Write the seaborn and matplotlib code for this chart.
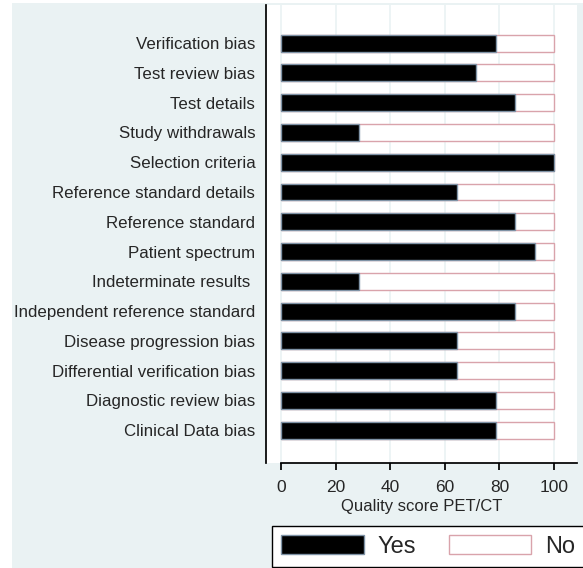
import pandas as pd
import seaborn as sns
import matplotlib.pyplot as plt
from matplotlib.patches import Patch, Rectangle

# QUADAS items, share of studies answering "Yes" (%)
items = [
    "Verification bias", "Test review bias", "Test details", "Study withdrawals",
    "Selection criteria", "Reference standard details", "Reference standard",
    "Patient spectrum", "Indeterminate results ", "Independent reference standard",
    "Disease progression bias", "Differential verification bias",
    "Diagnostic review bias", "Clinical Data bias",
]
yes_pct = [78.6, 71.4, 85.7, 28.6, 100, 64.3, 85.7, 92.9, 28.6, 85.7, 64.3, 64.3, 78.6, 78.6]
total_pct = [100] * len(items)
xticks = [0, 20, 40, 60, 80, 100]

bg = "#EAF2F3"

def plot_quality(df):
    sns.set_theme(style="white")
    plt.rcParams["font.family"] = ["Liberation Sans", "DejaVu Sans"]

    fig = plt.figure(figsize=(5.83, 5.68), dpi=100, facecolor="white")
    fig.patches.append(Rectangle((12 / 583, 0), 1, 565 / 568, transform=fig.transFigure,
                                 facecolor=bg, edgecolor="none", zorder=-5))
    ax = fig.add_axes([266 / 583, 1 - 463 / 568, (577 - 266) / 583, (463 - 5) / 568])
    ax.set_facecolor("white")

    sns.barplot(data=df, x="total", y="item", orient="h", color="white",
                edgecolor="#D9A3AB", linewidth=1, width=0.57, ax=ax)
    sns.barplot(data=df, x="yes", y="item", orient="h", color="black",
                edgecolor="#7F93A6", linewidth=1, width=0.57, ax=ax)

    ax.set_xlim(-5.5, 108.4)
    ax.set_ylim(14.1, -1.28)
    ax.set_xticks(xticks)
    ax.xaxis.grid(True, color=bg, linewidth=1.2)
    ax.set_axisbelow(True)
    for s in ["top", "right"]:
        ax.spines[s].set_visible(False)
    ax.spines["left"].set_color("black")
    ax.spines["bottom"].set_color("black")
    ax.spines["bottom"].set_bounds(0, 108.4)
    ax.tick_params(axis="x", bottom=True, length=5, color="black", labelsize=12.5, pad=7)
    ax.tick_params(axis="y", left=False, labelsize=12.2, pad=1.7)
    ax.set_xlabel("Quality score PET/CT", fontsize=12, labelpad=3)
    ax.set_ylabel("")

    handles = [Patch(facecolor="black", edgecolor="#7F93A6"),
               Patch(facecolor="white", edgecolor="#D9A3AB")]
    fig.legend(handles, ["Yes", "No"], loc="lower left",
               bbox_to_anchor=(272 / 583, 1 / 568), ncol=2, fontsize=17,
               fancybox=False, edgecolor="black", framealpha=1,
               handlelength=3.5, handleheight=0.85, columnspacing=1.37,
               borderpad=0.38, handletextpad=0.6, borderaxespad=0)

    fig.savefig("out.png", dpi=100, facecolor="white")

if __name__ == "__main__":
    data = pd.DataFrame({"item": items, "yes": yes_pct, "total": total_pct})
    plot_quality(data)
